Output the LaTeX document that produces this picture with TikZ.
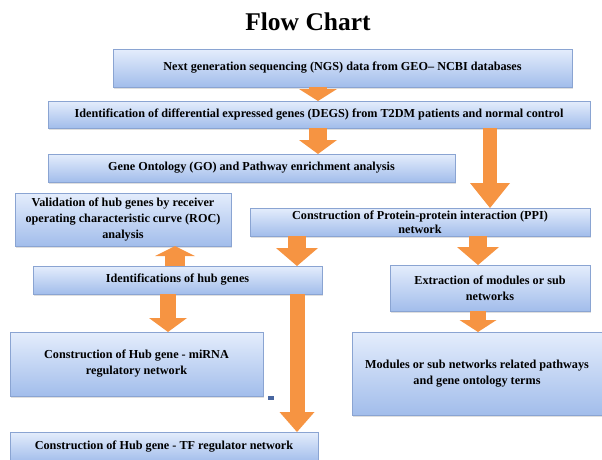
\documentclass[tikz,border=0pt]{standalone}
\usepackage{fontspec}
\setmainfont{Liberation Serif}
\usetikzlibrary{arrows.meta,shadows}
\definecolor{boxtop}{RGB}{228,237,252}
\definecolor{boxbot}{RGB}{162,189,235}
\definecolor{boxline}{RGB}{138,164,210}
\definecolor{flow}{RGB}{246,148,66}
\definecolor{dotblue}{RGB}{72,102,160}
\tikzstyle{stage} = [draw=boxline, line width=.6pt, top color=boxtop, bottom color=boxbot, inner sep=2pt, outer sep=0pt, align=center, font=\fontsize{12.2}{16}\selectfont\bfseries, drop shadow={shadow xshift=1pt, shadow yshift=-1.5pt, opacity=.25}]
\tikzstyle{Flow} = [draw=flow, line width=18pt, -{Triangle[width=38pt, length=12pt, line width=0pt]}]

\begin{document}
\begin{tikzpicture}[x=1pt,y=-1pt]
            \clip (0,0) rectangle (602,459);
            \node (T) [font=\fontsize{25.5}{28}\selectfont\bfseries] at (308,22) {Flow Chart};
            %%%%% Top stages %%%%%
            \node (NGS) [stage, minimum width=459pt, minimum height=38pt] at (342.5,68) {Next generation sequencing (NGS) data from GEO-- NCBI databases};
            \node (DEGS) [stage, minimum width=542pt, minimum height=27pt] at (319,114.5) {Identification of differential expressed genes (DEGS) from T2DM patients and normal control};
            \node (GO) [stage, minimum width=407pt, minimum height=28pt] at (251.5,168) {Gene Ontology (GO) and Pathway enrichment analysis};
            \draw [Flow] (NGS.south -| 318,0) -- (DEGS.north -| 318,0);
            \draw [Flow, -{Triangle[width=38pt, length=14pt, line width=0pt]}] (DEGS.south -| 318,0) -- (GO.north -| 318,0);
            %%%%% PPI branch %%%%%
            \node (PPI) [stage, minimum width=340pt, minimum height=28pt, inner sep=0pt, font=\fontsize{12.2}{14}\selectfont\bfseries] at (420,222) {Construction of Protein-protein interaction (PPI)\\network};
            \node (EXT) [stage, minimum width=200pt, minimum height=46pt] at (490,288) {Extraction of modules or sub\\networks};
            \node (MOD) [stage, minimum width=250pt, minimum height=83pt] at (477,373.5) {Modules or sub networks related pathways\\and gene ontology terms};
            \draw [Flow, line width=14pt, -{Triangle[width=40pt, length=25pt, line width=0pt]}] (DEGS.south -| 490,0) -- (PPI.north -| 490,0);
            \draw [Flow, -{Triangle[width=42pt, length=18pt, line width=0pt]}] (PPI.south -| 478,0) -- (EXT.north -| 478,0);
            \draw [Flow, line width=16pt, -{Triangle[width=37pt, length=12pt, line width=0pt]}] (EXT.south -| 478,0) -- (MOD.north -| 478,0);
            %%%%% Hub genes %%%%%
            \node (ROC) [stage, minimum width=216pt, minimum height=53pt, inner sep=0pt] at (123,219.5) {Validation of hub genes by receiver\\operating characteristic curve (ROC)\\analysis};
            \node (HUB) [stage, minimum width=289pt, minimum height=28pt] at (177.5,280) {Identifications of hub genes};
            \node (MIR) [stage, minimum width=253pt, minimum height=64pt] at (136.5,364) {Construction of Hub gene - miRNA\\regulatory network};
            \node (TF) [stage, minimum width=308pt, minimum height=30pt] at (164,447) {Construction of Hub gene - TF regulator network};
            \node (D) [fill=dotblue, minimum width=6pt, minimum height=4pt, inner sep=0pt] at (270.5,398) {};
            \draw [Flow, -{Triangle[width=42pt, length=18pt, line width=0pt]}] (PPI.south -| 297,0) -- (HUB.north -| 297,0);
            \draw [Flow, line width=20pt, -{Triangle[width=40pt, length=10pt, line width=0pt]}] (HUB.north -| 175,0) -- (ROC.south -| 175,0);
            \draw [Flow, line width=16pt, -{Triangle[width=38pt, length=14pt, line width=0pt]}] (HUB.south -| 168,0) -- (MIR.north -| 168,0);
            \draw [Flow, line width=15pt, -{Triangle[width=35pt, length=20pt, line width=0pt]}] (HUB.south -| 297,0) -- (TF.north -| 297,0);
\end{tikzpicture}
\end{document}
